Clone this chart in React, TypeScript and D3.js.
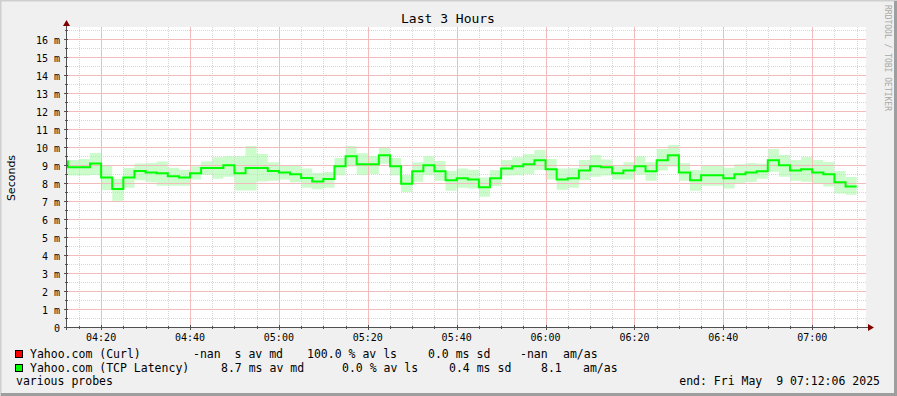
import * as d3 from "d3";

// step medians (ms) every 150 s starting 04:10:00
const median = [
  9.2, 8.87, 8.87, 9.09, 8.31, 7.67, 8.31, 8.67, 8.59, 8.54, 8.37, 8.31,
  8.54, 8.83, 8.83, 8.98, 8.54, 8.83, 8.83, 8.67, 8.59, 8.48, 8.28, 8.09,
  8.22, 8.93, 9.48, 9.04, 9.04, 9.54, 8.93, 7.96, 8.65, 8.98, 8.65, 8.15,
  8.26, 8.2, 7.76, 8.26, 8.81, 8.93, 9.04, 9.26, 8.76, 8.2, 8.26, 8.7,
  8.93, 8.87, 8.54, 8.7, 8.93, 8.65, 9.26, 9.54, 8.59, 8.15, 8.43, 8.43,
  8.26, 8.48, 8.59, 8.65, 9.26, 8.98, 8.7, 8.76, 8.59, 8.48, 8.04, 7.81,
];
const upper = [
  9.7, 9.28, 9.33, 9.67, 9.0, 8.24, 8.83, 9.09, 9.11, 9.19, 8.85, 8.74,
  8.93, 9.19, 9.43, 9.48, 9.48, 10.06, 9.61, 9.15, 9.0, 9.0, 8.8, 8.56,
  8.61, 9.39, 10.06, 9.65, 9.5, 9.98, 9.39, 8.43, 9.15, 9.48, 9.22, 8.67,
  8.8, 8.74, 8.3, 8.72, 9.28, 9.43, 9.61, 9.83, 9.33, 8.8, 8.83, 9.28,
  9.56, 9.3, 8.93, 9.15, 9.48, 9.15, 9.89, 10.11, 9.11, 8.72, 8.98, 8.98,
  8.85, 9.04, 9.11, 9.07, 9.89, 9.56, 9.28, 9.44, 9.28, 9.17, 8.67, 8.33,
];
const lower = [
  8.5, 8.41, 8.41, 8.44, 7.61, 7.02, 7.74, 8.15, 8.04, 7.85, 7.85, 7.85,
  8.19, 8.44, 8.24, 8.35, 7.59, 7.59, 8.09, 8.13, 8.19, 8.04, 7.74, 7.65,
  7.74, 8.43, 8.91, 8.44, 8.5, 9.07, 8.43, 7.5, 8.07, 8.43, 8.13, 7.57,
  7.74, 7.7, 7.24, 7.83, 8.41, 8.43, 8.5, 8.72, 8.19, 7.63, 7.74, 8.15,
  8.35, 8.41, 8.19, 8.19, 8.46, 8.13, 8.69, 8.91, 8.13, 7.57, 7.85, 7.85,
  7.69, 7.96, 8.06, 8.24, 8.63, 8.35, 8.13, 8.07, 7.96, 7.8, 7.41, 7.35,
];

const yTicks = [0, 1, 2, 3, 4, 5, 6, 7, 8, 9, 10, 11, 12, 13, 14, 15, 16];
const yMinor = [0.5, 1.5, 2.5, 3.5, 4.5, 5.5, 6.5, 7.5, 8.5, 9.5, 10.5, 11.5, 12.5, 13.5, 14.5, 15.5, 16.5];
const xTickLabels = ["04:20", "04:40", "05:00", "05:20", "05:40", "06:00", "06:20", "06:40", "07:00"];

const legendRow1 = [
  [30, "Yahoo.com (Curl)"],
  [193, "-nan  s av md"],
  [307, "100.0 % av ls"],
  [428, "0.0 ms sd"],
  [520, "-nan"],
  [563, "am/as"],
];
const legendRow2 = [
  [30, "Yahoo.com (TCP Latency)"],
  [221, "8.7 ms av md"],
  [342, "0.0 % av ls"],
  [449, "0.4 ms sd"],
  [541, "8.1"],
  [583, "am/as"],
];

const W = 897;
const H = 396;
const day = (h: number, m: number, s = 0) => new Date(2025, 4, 9, h, m, s);
const tStart = day(4, 12, 6);
const tEnd = day(7, 12, 6);
const firstStep = day(4, 10, 0);
const STEP = 150 * 1000;

const mono = "'DejaVu Sans Mono', monospace";
const MGRID = "#f3bcbc";
const GRID = "#d6d6d6";

export default function App() {
  const left = 66, right = 866, top = 27, bottom = 327;
  const x = d3.scaleTime().domain([tStart, tEnd]).range([left, right]);
  const y = d3.scaleLinear().domain([0, 300 / 18]).range([bottom, top]);

  const pts = median.map((m, i) => ({
    t: new Date(firstStep.getTime() + i * STEP),
    m,
    lo: lower[i],
    hi: upper[i],
  }));
  const last = pts[pts.length - 1];
  pts.push({ ...last, t: new Date(last.t.getTime() + STEP) });

  const area = d3
    .area<any>()
    .curve(d3.curveStepAfter)
    .x((d) => x(d.t))
    .y0((d) => y(d.lo))
    .y1((d) => y(d.hi));
  const line = d3
    .line<any>()
    .curve(d3.curveStepAfter)
    .x((d) => x(d.t))
    .y((d) => y(d.m));

  const minor = d3.timeMinute.every(5)!.range(tStart, tEnd);
  const px = (v: number) => Math.round(v) + 0.5;

  return (
    <svg width={W} height={H} style={{ position: "absolute", left: 0, top: 0 }}>
      <rect x={0} y={0} width={W} height={H} fill="#f0f0f0" />
      <path d={`M0.5,${H} V0.5 H${W}`} stroke="#cfcfcf" strokeWidth={2} fill="none" />
      <path d={`M1,${H - 1.5} H${W - 1.5} V1`} stroke="#9e9e9e" strokeWidth={3} fill="none" />
      <rect x={left} y={top} width={right - left} height={bottom - top} fill="#ffffff" />
      <defs>
        <clipPath id="plot">
          <rect x={left + 1} y={top} width={right - left - 1} height={bottom - top} />
        </clipPath>
      </defs>

      <g clipPath="url(#plot)">
        <path d={area(pts) ?? ""} fill="#ccfccc" />
      </g>

      {/* minor grid */}
      {yMinor.map((v) => (
        <line key={"h" + v} x1={left + 1} x2={right} y1={px(y(v))} y2={px(y(v))} stroke={GRID} strokeDasharray="1 1" />
      ))}
      {minor
        .filter((t) => t.getMinutes() % 20 !== 0)
        .map((t) => (
          <line key={"v" + t.getTime()} x1={px(x(t))} x2={px(x(t))} y1={top} y2={bottom} stroke={GRID} strokeDasharray="1 1" />
        ))}
      {/* major grid */}
      {yTicks.map((v) => (
        <line key={"H" + v} x1={left + 1} x2={right} y1={px(y(v))} y2={px(y(v))} stroke={MGRID} />
      ))}
      {minor
        .filter((t) => t.getMinutes() % 20 === 0)
        .map((t) => (
          <line key={"V" + t.getTime()} x1={px(x(t))} x2={px(x(t))} y1={top} y2={bottom} stroke={MGRID} />
        ))}

      <g clipPath="url(#plot)">
        <path d={line(pts) ?? ""} fill="none" stroke="#00ff00" strokeWidth={2} />
      </g>

      {/* axes */}
      <line x1={left + 0.5} x2={left + 0.5} y1={24} y2={bottom + 3} stroke="#505050" />
      <line x1={left - 2} x2={right + 4} y1={bottom + 0.5} y2={bottom + 0.5} stroke="#505050" />
      <path d={`M${left + 0.5},20 L${left - 3},26 L${left + 4},26 Z`} fill="#800000" />
      <path d={`M${right + 8},${bottom + 0.5} L${right + 2},${bottom - 3} L${right + 2},${bottom + 4} Z`} fill="#800000" />
      {yTicks.concat(yMinor).map((v) => (
        <line
          key={"yt" + v}
          x1={Number.isInteger(v) ? left - 2 : left - 1}
          x2={left + 2}
          y1={px(y(v))}
          y2={px(y(v))}
          stroke="#505050"
        />
      ))}
      {minor.map((t) => {
        const major = t.getMinutes() % 20 === 0;
        return (
          <line
            key={"xt" + t.getTime()}
            x1={px(x(t))}
            x2={px(x(t))}
            y1={major ? bottom - 2 : bottom - 1}
            y2={major ? bottom + 3 : bottom + 2}
            stroke="#505050"
          />
        );
      })}

      {/* tick labels */}
      {yTicks.map((v) => (
        <text key={"yl" + v} x={60} y={y(v) + 4.5} fontFamily={mono} fontSize={10} textAnchor="end" fill="#000">
          {v === 0 ? "0" : `${v} m`}
        </text>
      ))}
      {xTickLabels.map((s) => {
        const [hh, mm] = s.split(":").map(Number);
        return (
          <text key={s} x={x(day(hh, mm))} y={341} fontFamily={mono} fontSize={10} textAnchor="middle" fill="#000">
            {s}
          </text>
        );
      })}

      <text x={448} y={23} fontFamily={mono} fontSize={13} textAnchor="middle" fill="#000">
        Last 3 Hours
      </text>
      <text
        transform="translate(15,178) rotate(-90)"
        fontFamily="'DejaVu Sans', sans-serif"
        fontSize={11}
        textAnchor="middle"
        fill="#000"
      >
        Seconds
      </text>
      <text transform="translate(885,5) rotate(90)" fontFamily={mono} fontSize={8} fill="#a8a8a8">
        RRDTOOL / TOBI OETIKER
      </text>

      {/* legend */}
      <rect x={15.5} y={350.5} width={7} height={7} fill="#ff0000" stroke="#000" />
      <rect x={15.5} y={364.5} width={7} height={7} fill="#00ff00" stroke="#000" />
      {legendRow1.map(([lx, s]) => (
        <text key={"l1" + lx} x={lx} y={358} fontFamily={mono} fontSize={11.5} fill="#000" style={{ whiteSpace: "pre" }}>
          {s}
        </text>
      ))}
      {legendRow2.map(([lx, s]) => (
        <text key={"l2" + lx} x={lx} y={372} fontFamily={mono} fontSize={11.5} fill="#000" style={{ whiteSpace: "pre" }}>
          {s}
        </text>
      ))}
      <text x={16} y={385} fontFamily={mono} fontSize={11.5} fill="#000">
        various probes
      </text>
      <text x={880} y={385} fontFamily={mono} fontSize={11.5} textAnchor="end" fill="#000" style={{ whiteSpace: "pre" }}>
        end: Fri May  9 07:12:06 2025
      </text>
    </svg>
  );
}
